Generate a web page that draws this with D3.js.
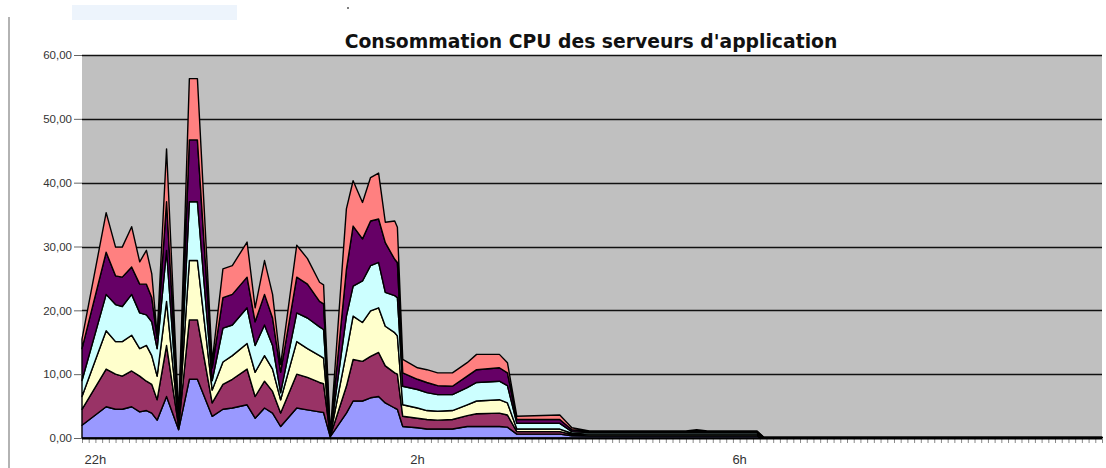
<!DOCTYPE html>
<html><head><meta charset="utf-8">
<script src="https://cdn.jsdelivr.net/npm/d3@7/dist/d3.min.js"></script>
<style>body{margin:0;background:#fff;overflow:hidden}</style>
</head><body><svg id="c" width="1106" height="468"></svg>
<script>
// ---- data ----
const chartTitle = "Consommation CPU des serveurs d'application";
const times = ["21:50","22:08","22:15","22:20","22:27","22:33","22:38","22:42","22:46","22:53",
  "23:02","23:10","23:16","23:27","23:35","23:42","23:53","23:59","00:06","00:12",
  "00:18","00:30","00:38","00:47","00:50","00:55","01:07","01:12","01:19","01:25",
  "01:31","01:36","01:43","01:45","01:49","02:00","02:07","02:15","02:26","02:37",
  "02:44","03:01","03:07","03:14","03:46","03:55","04:08","05:20","05:28","05:36",
  "06:13","06:18","10:30"];
const seriesNames = ["Serveur 1","Serveur 2","Serveur 3","Serveur 4","Serveur 5","Serveur 6"];
const serveur1 = [2.0,4.9,4.5,4.5,4.9,4.1,4.3,3.9,2.8,6.5, 1.3,9.2,9.2,3.4,4.5,4.7,5.2,3.1,4.7,3.9,
  1.8,4.7,4.4,4.1,4.0,0.2,3.9,5.8,5.8,6.3, 6.5,5.5,4.7,4.5,1.8,1.6,1.4,1.4,1.4,1.8,
  1.8,1.8,1.7,0.6,0.6,0.35,0.3,0.3,0.3,0.3, 0.3,0.02,0.02];
const serveur2 = [2.5,5.9,5.5,5.2,5.6,5.6,4.6,4.5,3.2,8.0, 0.5,9.3,9.3,2.1,3.9,4.5,5.6,3.4,4.2,3.4,
  2.1,5.3,5.1,4.6,4.5,0.1,4.2,6.5,6.2,6.5, 6.9,5.8,5.5,5.5,1.6,1.5,1.5,1.4,1.5,1.7,
  2.0,2.1,1.9,0.4,0.4,0.2,0.15,0.15,0.15,0.15, 0.15,0.02,0.02];
const serveur3 = [2.0,6.0,5.1,5.4,5.6,4.3,5.6,4.5,3.7,6.9, 0.5,9.3,9.3,2.0,3.5,3.7,4.0,3.8,4.0,3.5,
  2.1,5.1,4.5,4.2,4.0,0.1,5.3,6.8,6.1,7.1, 7.0,6.2,6.3,6.0,1.8,1.6,1.4,1.4,1.4,1.7,
  2.0,2.1,1.9,0.4,0.4,0.2,0.15,0.15,0.15,0.15, 0.15,0.02,0.02];
const serveur4 = [2.5,5.7,5.8,5.5,6.4,5.6,4.8,5.3,4.3,8.0, 0.4,9.2,9.2,1.5,5.3,4.8,5.6,4.2,4.8,3.7,
  1.1,4.5,4.8,4.5,4.5,0.1,5.7,4.7,6.5,7.1, 7.1,5.3,5.8,6.0,2.9,2.9,2.8,2.6,2.5,2.7,
  2.9,2.9,2.7,0.9,0.9,0.25,0.25,0.25,0.3,0.25, 0.25,0.02,0.02];
const serveur5 = [5.0,6.6,4.5,4.6,4.3,4.5,4.8,3.8,1.6,7.6, 0.4,9.7,9.7,2.0,4.8,4.8,4.8,3.7,4.8,4.3,
  3.2,5.6,5.3,4.0,4.0,0.1,7.3,9.4,6.6,7.0, 6.8,7.8,5.7,5.5,2.1,1.6,1.6,1.4,1.3,1.8,
  2.0,2.1,2.0,0.6,0.6,0.3,0.15,0.15,0.2,0.15, 0.15,0.02,0.02];
const serveur6 = [1.5,6.2,4.5,4.7,6.3,3.5,5.3,3.7,0.5,8.3, 0.4,9.6,9.6,1.0,4.5,4.5,5.5,2.2,5.3,3.7,
  1.2,5.0,4.0,3.0,3.0,0.1,9.5,7.1,5.7,6.8, 7.2,3.2,6.0,5.5,2.1,1.8,2.0,2.0,2.1,2.1,
  2.4,2.1,1.6,0.5,0.7,0.3,0.1,0.1,0.2,0.1, 0.1,0.02,0.02];
const yTickValues = [0,10,20,30,40,50,60];
const xTickTimes = ["22:00","02:00","06:00"];
const xTickLabels = ["22h","2h","6h"];

// ---- styles ----
const colors = ["#9999FF","#993366","#FFFFCC","#CCFFFF","#660066","#FF8080"];
const W = 1106, H = 468;
const plot = {left:82, right:1102, top:55, bottom:438};

function toMin(s){ const [h,m]=s.split(":").map(Number); let v=h*60+m-22*60; if(v<-120) v+=1440; return v; }

const svg = d3.select("#c");

// decorations (window artefacts)
svg.append("rect").attr("x",72).attr("y",5).attr("width",165).attr("height",15).attr("fill","#EDF4FC");
svg.append("line").attr("x1",9).attr("x2",9).attr("y1",17).attr("y2",H).attr("stroke","#9a9a9a").attr("stroke-width",1.5);
svg.append("circle").attr("cx",348).attr("cy",8).attr("r",1).attr("fill","#555");

const x = d3.scaleLinear().domain([toMin("21:50"), toMin("10:30")]).range([plot.left, plot.right]);
const y = d3.scaleLinear().domain([0,60]).range([plot.bottom, plot.top]);

// plot background
svg.append("rect").attr("x",plot.left).attr("y",plot.top)
  .attr("width",plot.right-plot.left).attr("height",plot.bottom-plot.top).attr("fill","#C0C0C0");

// gridlines
svg.append("g").selectAll("line").data(yTickValues.filter(d=>d>0)).join("line")
  .attr("x1",plot.left).attr("x2",plot.right)
  .attr("y1",d=>Math.round(y(d))+0.5).attr("y2",d=>Math.round(y(d))+0.5)
  .attr("stroke","#111").attr("stroke-width",1.5);

// stacked data
const rows = times.map((t,i)=>({t:toMin(t), s0:serveur1[i], s1:serveur2[i], s2:serveur3[i], s3:serveur4[i], s4:serveur5[i], s5:serveur6[i]}));
const keys = ["s0","s1","s2","s3","s4","s5"];
const stack = d3.stack().keys(keys)(rows);
const area = d3.area().x(d=>x(d.data.t)).y0(d=>y(d[0])).y1(d=>y(d[1]));
svg.append("g").selectAll("path").data(stack).join("path")
  .attr("d",area).attr("fill",(d,i)=>colors[i])
  .attr("stroke","#000").attr("stroke-width",1.4).attr("stroke-linejoin","round");

// x axis
const xAxis = d3.axisBottom(x)
  .tickValues(d3.range(toMin("21:50"), toMin("10:30")+1, 5))
  .tickSize(5).tickFormat("");
const gx = svg.append("g").attr("transform",`translate(0,${plot.bottom})`).call(xAxis);
gx.select(".domain").remove();
gx.selectAll(".tick line").attr("stroke","#8a8a8a");
svg.append("line").attr("x1",plot.left).attr("x2",plot.right).attr("y1",plot.bottom+0.5).attr("y2",plot.bottom+0.5)
  .attr("stroke","#000").attr("stroke-width",2.2);
svg.append("g").selectAll("text").data(xTickTimes).join("text")
  .attr("x",d=>x(toMin(d))).attr("y",464).attr("text-anchor","middle")
  .attr("font-family","Liberation Sans, Arial, sans-serif").attr("font-size",13).attr("fill","#333")
  .text((d,i)=>xTickLabels[i]);

// y axis
const yAxis = d3.axisLeft(y).tickValues(yTickValues).tickSize(8).tickPadding(2)
  .tickFormat(d=>d3.format(".2f")(d).replace(".",","));
const gy = svg.append("g").attr("transform",`translate(${plot.left},0)`).call(yAxis);
gy.select(".domain").remove();
gy.selectAll(".tick line").attr("stroke","#666");
gy.selectAll(".tick text").attr("font-family","Liberation Sans, Arial, sans-serif").attr("font-size",11.5).attr("fill","#333");

// title
const tt = svg.append("text").attr("x",591).attr("y",48).attr("text-anchor","middle")
  .attr("font-family","DejaVu Sans, Verdana, sans-serif").attr("font-weight","bold")
  .attr("font-size",16).attr("fill","#111").text(chartTitle);
const w = tt.node().getComputedTextLength();
tt.attr("font-size", 16*493/w);
</script></body></html>
